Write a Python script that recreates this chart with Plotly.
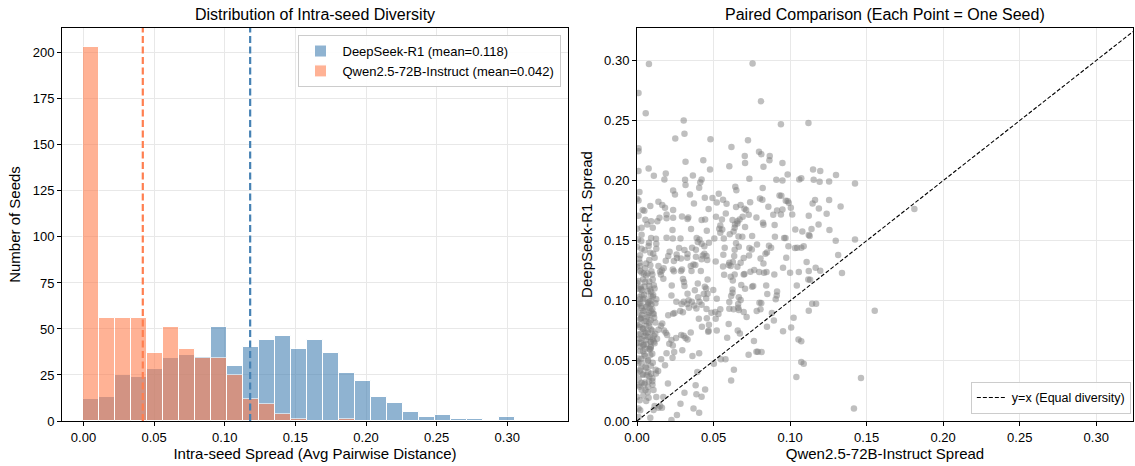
import plotly.graph_objects as go

# ---------------- data ----------------
bin_width = 0.01132
deepseek_counts = [12, 13, 25, 24, 28, 34, 36, 35, 51, 30, 40, 44, 46, 39, 44, 37, 26, 22, 13, 10, 5, 2, 3, 1, 1, 0, 2]
qwen_counts = [203, 56, 56, 56, 37, 51, 39, 34, 34, 25, 12, 9, 4, 1, 0, 0, 1, 0, 0, 0, 0, 0, 0, 0, 0, 0, 0]
deepseek_mean = 0.118
qwen_mean = 0.042
hist_ticks = [0.0, 0.05, 0.10, 0.15, 0.20, 0.25, 0.30]
count_ticks = [0, 25, 50, 75, 100, 125, 150, 175, 200]
x_limit = 0.324
y_limit = 0.327

# (Qwen spread, DeepSeek spread) per seed
seed_pairs = [
    (0.0078, 0.297), (0.0755, 0.2975), (0.001, 0.273), (0.0057, 0.256), (0.081, 0.266), (0.0305, 0.250),
    (0.094, 0.247), (0.112, 0.248), (0.031, 0.239), (0.025, 0.235), (0.048, 0.2345), (0.0725, 0.2335),
    (0.0617, 0.228), (0.001, 0.227), (0.001, 0.2245), (0.0797, 0.224), (0.0704, 0.2205), (0.0867, 0.2205),
    (0.0812, 0.222), (0.0865, 0.217), (0.0433, 0.217), (0.0317, 0.2157), (0.0706, 0.2146), (0.095, 0.2146),
    (0.0076, 0.210), (0.0477, 0.2093), (0.115, 0.2093), (0.0603, 0.212), (0.0826, 0.2115), (0.1197, 0.208),
    (0.001, 0.208), (0.0188, 0.206), (0.011, 0.204), (0.0365, 0.2043), (0.0984, 0.2052), (0.130, 0.2046),
    (0.0314, 0.2007), (0.0422, 0.201), (0.0734, 0.2015), (0.091, 0.2007), (0.095, 0.2002), (0.106, 0.201),
    (0.1073, 0.202), (0.1154, 0.2007), (0.1193, 0.199), (0.1255, 0.1993), (0.1424, 0.1977), (0.0179, 0.201),
    (0.0413, 0.1985), (0.0317, 0.1963), (0.0642, 0.195), (0.0406, 0.194), (0.0821, 0.1938), (0.0236, 0.1918),
    (0.0649, 0.192), (0.0016, 0.1905), (0.0248, 0.1885), (0.0346, 0.1885), (0.0534, 0.189), (0.0931, 0.1877),
    (0.0943, 0.1874), (0.0443, 0.1857), (0.0493, 0.1855), (0.0803, 0.1852), (0.0819, 0.184), (0.0562, 0.184),
    (0.001, 0.1835), (0.0984, 0.183), (0.0972, 0.1833), (0.1163, 0.1838), (0.1255, 0.1838), (0.014, 0.1824),
    (0.0372, 0.181), (0.0521, 0.1819), (0.0739, 0.1821), (0.0991, 0.1816), (0.1147, 0.181), (0.0165, 0.1797),
    (0.0087, 0.1788), (0.0183, 0.1774), (0.0585, 0.1808), (0.0647, 0.178), (0.0677, 0.1797), (0.0702, 0.1766),
    (0.0858, 0.1783), (0.1005, 0.1774), (0.133, 0.1785), (0.1812, 0.1763), (0.0037, 0.1755), (0.0048, 0.175),
    (0.0236, 0.1755), (0.0468, 0.1763), (0.0713, 0.1755), (0.0915, 0.1752), (0.095, 0.176), (0.1188, 0.1769),
    (0.001, 0.1708), (0.0193, 0.1719), (0.058, 0.1727), (0.073, 0.1716), (0.0147, 0.1691), (0.0193, 0.1688),
    (0.0236, 0.1691), (0.0294, 0.1702), (0.0335, 0.1694), (0.0516, 0.1699), (0.069, 0.1699), (0.078, 0.1694),
    (0.089, 0.1716), (0.094, 0.1719), (0.1014, 0.1719), (0.1122, 0.1708), (0.1239, 0.1724), (0.033, 0.168),
    (0.0055, 0.1675), (0.0092, 0.1663), (0.0133, 0.1663), (0.0422, 0.1672), (0.0445, 0.1677), (0.0555, 0.1677),
    (0.0624, 0.1672), (0.0656, 0.1663), (0.067, 0.1677), (0.0823, 0.165), (0.1186, 0.1636), (0.0826, 0.1633),
    (0.0899, 0.163), (0.064, 0.1636), (0.0656, 0.1644), (0.0544, 0.1627), (0.0067, 0.1636), (0.003, 0.1608),
    (0.0103, 0.1608), (0.0537, 0.160), (0.0557, 0.1594), (0.0638, 0.1608), (0.0706, 0.1614), (0.1034, 0.1594),
    (0.114, 0.1597), (0.1257, 0.1589), (0.108, 0.1577), (0.0232, 0.1589), (0.0353, 0.1597), (0.0456, 0.1583),
    (0.0631, 0.1577), (0.0544, 0.1566), (0.0606, 0.1553), (0.1122, 0.1547), (0.1128, 0.1539), (0.0752, 0.1539),
    (0.0688, 0.1533), (0.0663, 0.1536), (0.0901, 0.1533), (0.0961, 0.1522), (0.097, 0.1522), (0.0193, 0.1525),
    (0.0092, 0.1522), (0.0124, 0.1517), (0.0234, 0.1519), (0.0284, 0.1519), (0.039, 0.1522), (0.0408, 0.1511),
    (0.0505, 0.1519), (0.0567, 0.1519), (0.1424, 0.1511), (0.1298, 0.150), (0.0007, 0.1511), (0.0028, 0.1497),
    (0.0078, 0.1483), (0.0126, 0.1475), (0.0397, 0.1489), (0.0422, 0.1475), (0.047, 0.1483), (0.0647, 0.1478),
    (0.0784, 0.1469), (0.0862, 0.1458), (0.0076, 0.1456), (0.044, 0.1453), (0.0665, 0.145), (0.0876, 0.1442),
    (0.0989, 0.1453), (0.1032, 0.1439), (0.1046, 0.1442), (0.1073, 0.1442), (0.1089, 0.1453), (0.003, 0.1433),
    (0.0126, 0.1433), (0.0275, 0.1439), (0.036, 0.1442), (0.0573, 0.1442), (0.0734, 0.1439), (0.031, 0.1422),
    (0.0385, 0.1425), (0.0638, 0.1425), (0.075, 0.1428), (0.0087, 0.140), (0.0106, 0.1392), (0.0213, 0.1408),
    (0.0849, 0.1403), (0.044, 0.1392), (0.0259, 0.1386), (0.033, 0.1389), (0.0429, 0.1378), (0.0732, 0.1378),
    (0.1314, 0.1381), (0.0204, 0.1372), (0.0385, 0.1367), (0.0454, 0.1372), (0.0564, 0.1383), (0.0635, 0.1372),
    (0.0839, 0.1392), (0.0014, 0.135), (0.0018, 0.1317), (0.0115, 0.1358), (0.0261, 0.1356), (0.0287, 0.1353),
    (0.0328, 0.1358), (0.0422, 0.1345), (0.0459, 0.1339), (0.0697, 0.1356), (0.0807, 0.1353), (0.0975, 0.1358),
    (0.0188, 0.1334), (0.0241, 0.1331), (0.0514, 0.1328), (0.0626, 0.1322), (0.0603, 0.1317), (0.0677, 0.1317),
    (0.1108, 0.1322), (0.0369, 0.1303), (0.0826, 0.1311), (0.0599, 0.1297), (0.002, 0.1289), (0.0087, 0.1295),
    (0.014, 0.1289), (0.0351, 0.1289), (0.0381, 0.1297), (0.0656, 0.1284), (0.0562, 0.1286), (0.0612, 0.1289),
    (0.0954, 0.1275), (0.0174, 0.127), (0.1167, 0.1275), (0.0053, 0.127), (0.0234, 0.1261), (0.0294, 0.1261),
    (0.0163, 0.1253), (0.0151, 0.1242), (0.0241, 0.1245), (0.0287, 0.1248), (0.0356, 0.1248), (0.0417, 0.1248),
    (0.0741, 0.1242), (0.003, 0.1236), (0.0094, 0.1245), (0.0766, 0.1256), (0.0798, 0.1239), (0.083, 0.1234),
    (0.0846, 0.1239), (0.1057, 0.1239), (0.1122, 0.1248), (0.1197, 0.125), (0.1339, 0.1231), (0.0702, 0.1223),
    (0.0638, 0.122), (0.100, 0.1234), (0.0897, 0.122), (0.0044, 0.1228), (0.0069, 0.1228), (0.0156, 0.122),
    (0.0569, 0.1217), (0.0612, 0.120), (0.0697, 0.122), (0.0172, 0.1184), (0.0103, 0.1178), (0.030, 0.1181),
    (0.0461, 0.1178), (0.0626, 0.117), (0.1119, 0.1178), (0.1131, 0.1175), (0.001, 0.1164), (0.0053, 0.1156),
    (0.0307, 0.1156), (0.0397, 0.1145), (0.008, 0.1123), (0.0227, 0.1128), (0.031, 0.1123), (0.0443, 0.1117),
    (0.0681, 0.1131), (0.0759, 0.1123), (0.0023, 0.1117), (0.0025, 0.1101), (0.0752, 0.1117), (0.0844, 0.1128),
    (0.1044, 0.1128), (0.0115, 0.1103), (0.0452, 0.1103), (0.0624, 0.1095), (0.0706, 0.1101), (0.0032, 0.1087),
    (0.0087, 0.1095), (0.0498, 0.109), (0.0378, 0.1087), (0.0092, 0.1076), (0.0915, 0.1078), (0.0624, 0.1067),
    (0.0046, 0.1051), (0.0106, 0.1048), (0.0225, 0.1045), (0.033, 0.1059), (0.0436, 0.1056), (0.0461, 0.1059),
    (0.0851, 0.1056), (0.0615, 0.104), (0.0016, 0.1031), (0.0103, 0.1034), (0.0399, 0.1029), (0.0665, 0.1029),
    (0.0913, 0.1045), (0.0126, 0.1012), (0.0018, 0.1012), (0.0337, 0.1004), (0.0452, 0.102), (0.0521, 0.1017),
    (0.0677, 0.1006), (0.0906, 0.1012), (0.0087, 0.0998), (0.0073, 0.0984), (0.0257, 0.0993), (0.0305, 0.0993),
    (0.0358, 0.0993), (0.0408, 0.0993), (0.0603, 0.099), (0.080, 0.0984), (0.0812, 0.0981), (0.1144, 0.0976),
    (0.117, 0.0976), (0.001, 0.0976), (0.003, 0.0956), (0.0094, 0.097), (0.0291, 0.0973), (0.0328, 0.0973),
    (0.0374, 0.0962), (0.0422, 0.0968), (0.0661, 0.0973), (0.0661, 0.0943), (0.0339, 0.0943), (0.0083, 0.0943),
    (0.0388, 0.0937), (0.0603, 0.0934), (0.0631, 0.0929), (0.0665, 0.0923), (0.0697, 0.0907), (0.0782, 0.0915),
    (0.0807, 0.0929), (0.1122, 0.0918), (0.1553, 0.0918), (0.0041, 0.0915), (0.0092, 0.0915), (0.0282, 0.0915),
    (0.030, 0.0904), (0.0454, 0.0932), (0.0544, 0.0929), (0.0511, 0.0907), (0.0103, 0.0895), (0.0236, 0.0893),
    (0.0245, 0.0898), (0.0486, 0.0901), (0.0881, 0.0898), (0.0032, 0.0882), (0.0204, 0.0879), (0.0532, 0.089),
    (0.0716, 0.0865), (0.1023, 0.0859), (0.0069, 0.0865), (0.0112, 0.0859), (0.0404, 0.0851), (0.0456, 0.0854),
    (0.0514, 0.0851), (0.0894, 0.0837), (0.0025, 0.0851), (0.005, 0.0832), (0.008, 0.0818), (0.0165, 0.0812),
    (0.0156, 0.0793), (0.006, 0.079), (0.047, 0.0801), (0.0599, 0.0807), (0.0018, 0.0782), (0.0424, 0.0785),
    (0.0849, 0.0785), (0.0037, 0.0768), (0.0092, 0.0762), (0.014, 0.076), (0.0658, 0.0754), (0.1007, 0.0779),
    (0.0177, 0.0754), (0.0468, 0.0751), (0.0521, 0.0754), (0.0071, 0.074), (0.0188, 0.0735), (0.0954, 0.0746),
    (0.0465, 0.0743), (0.0025, 0.0726), (0.0119, 0.0726), (0.0351, 0.0737), (0.0672, 0.0729), (0.0048, 0.0707),
    (0.0197, 0.0715), (0.0289, 0.0715), (0.0305, 0.071), (0.0087, 0.0699), (0.0589, 0.0693), (0.0016, 0.0685),
    (0.0131, 0.0685), (0.0255, 0.069), (0.0317, 0.069), (0.0103, 0.0679), (0.1055, 0.0679), (0.0057, 0.0674),
    (0.0225, 0.0674), (0.033, 0.0679), (0.0764, 0.0665), (0.009, 0.066), (0.1073, 0.0663), (0.0023, 0.0652),
    (0.0115, 0.0646), (0.0211, 0.0643), (0.0044, 0.0632), (0.009, 0.0618), (0.0234, 0.0629), (0.0053, 0.0602),
    (0.0085, 0.0596), (0.0296, 0.0588), (0.0018, 0.0582), (0.0243, 0.0574), (0.078, 0.0577), (0.0789, 0.0577),
    (0.0814, 0.0574), (0.0406, 0.0563), (0.0048, 0.0554), (0.0087, 0.0549), (0.0193, 0.0563), (0.0362, 0.0541),
    (0.0729, 0.0552), (0.0232, 0.0527), (0.0028, 0.0518), (0.0158, 0.0513), (0.0548, 0.0513), (0.0578, 0.0513),
    (0.0073, 0.0505), (0.0009, 0.0485), (0.0103, 0.0485), (0.1073, 0.0491), (0.1089, 0.0477), (0.0502, 0.0477),
    (0.0183, 0.0463), (0.0055, 0.0452), (0.0023, 0.0435), (0.0122, 0.0427), (0.0633, 0.0427), (0.0138, 0.0416),
    (0.0073, 0.0408), (0.0394, 0.0408), (0.0092, 0.0394), (0.0124, 0.0396), (0.0037, 0.0385), (0.0064, 0.038),
    (0.1463, 0.0358), (0.1041, 0.0366), (0.0101, 0.0355), (0.0011, 0.0347), (0.0615, 0.0338), (0.0078, 0.033),
    (0.003, 0.0319), (0.0048, 0.0305), (0.0202, 0.0313), (0.0101, 0.0302), (0.0073, 0.0283), (0.0016, 0.0286),
    (0.0383, 0.0297), (0.0445, 0.0263), (0.0108, 0.0258), (0.0055, 0.0258), (0.0388, 0.0222), (0.031, 0.0236),
    (0.0422, 0.0202), (0.0041, 0.0213), (0.0076, 0.0194), (0.0126, 0.020), (0.0172, 0.020), (0.0018, 0.0172),
    (0.006, 0.0166), (0.0284, 0.0144), (0.0151, 0.0125), (0.0115, 0.0125), (0.014, 0.0111), (0.0163, 0.0111),
    (0.0369, 0.0103), (0.1417, 0.0105), (0.0021, 0.0089), (0.0108, 0.0092), (0.0406, 0.0069), (0.0261, 0.005),
    (0.0087, 0.0028), (0.0225, 0.0008), (0.001, 0.0103), (0.001, 0.0033),
    (0.002, 0.125), (0.004, 0.118), (0.006, 0.121), (0.008, 0.116), (0.010, 0.122), (0.001, 0.110),
    (0.003, 0.105), (0.005, 0.112), (0.007, 0.108), (0.009, 0.104), (0.011, 0.113), (0.002, 0.098),
    (0.004, 0.101), (0.006, 0.095), (0.008, 0.099), (0.010, 0.093), (0.001, 0.090), (0.003, 0.086),
    (0.005, 0.092), (0.007, 0.088), (0.009, 0.084), (0.011, 0.089), (0.002, 0.080), (0.004, 0.077),
    (0.006, 0.083), (0.008, 0.079), (0.010, 0.075), (0.001, 0.072), (0.003, 0.068), (0.005, 0.074),
    (0.007, 0.070), (0.009, 0.066), (0.011, 0.071), (0.002, 0.062), (0.004, 0.058), (0.006, 0.064),
    (0.008, 0.060), (0.010, 0.056), (0.001, 0.052), (0.003, 0.048), (0.005, 0.054), (0.007, 0.050),
    (0.009, 0.046), (0.002, 0.042), (0.004, 0.039), (0.006, 0.044), (0.008, 0.037), (0.010, 0.033),
    (0.001, 0.030), (0.003, 0.026), (0.005, 0.032), (0.007, 0.024), (0.002, 0.138), (0.005, 0.142),
    (0.008, 0.134), (0.003, 0.155), (0.006, 0.131), (0.000, 0.115), (0.000, 0.095), (0.000, 0.080),
    (0.000, 0.065), (0.000, 0.050), (0.000, 0.040), (0.000, 0.128), (0.000, 0.145), (0.000, 0.020),
    (0.000, 0.160), (0.000, 0.185), (0.004, 0.063), (0.006, 0.073), (0.002, 0.085), (0.008, 0.090),
    (0.003, 0.094), (0.007, 0.097), (0.005, 0.102), (0.009, 0.061), (0.011, 0.066), (0.012, 0.082),
    (0.012, 0.098),
]

qwen_spread = [p[0] for p in seed_pairs]
deepseek_spread = [p[1] for p in seed_pairs]

# ---------------- figure ----------------
W, H = 1135, 466
ML, MR, MT, MB = 62, 2, 28, 45
PW = W - ML - MR
FONT = "Liberation Sans, Arial, Helvetica, sans-serif"

def dom_x(a, b):
    return [(a - ML) / PW, (b - ML) / PW]

left_dom = dom_x(62, 568)
right_dom = dom_x(637, 1133)

bin_centers = [i * bin_width + bin_width / 2 for i in range(len(deepseek_counts))]

fig = go.Figure()

fig.add_trace(go.Bar(
    x=bin_centers, y=deepseek_counts, width=bin_width,
    marker=dict(color="steelblue", line=dict(color="white", width=1)),
    opacity=0.6, name=f"DeepSeek-R1 (mean={deepseek_mean:.3f})",
    xaxis="x", yaxis="y", legend="legend",
))
fig.add_trace(go.Bar(
    x=bin_centers, y=qwen_counts, width=bin_width,
    marker=dict(color="coral", line=dict(color="white", width=1)),
    opacity=0.6, name=f"Qwen2.5-72B-Instruct (mean={qwen_mean:.3f})",
    xaxis="x", yaxis="y", legend="legend",
))

# mean lines
for m, c in [(deepseek_mean, "steelblue"), (qwen_mean, "coral")]:
    fig.add_shape(type="line", xref="x", yref="y domain", x0=m, x1=m, y0=0, y1=1,
                  line=dict(color=c, width=2.2, dash="7px,3.5px"), layer="above")

# scatter
fig.add_trace(go.Scatter(
    x=qwen_spread, y=deepseek_spread, mode="markers",
    marker=dict(size=6.5, color="gray", opacity=0.5, line=dict(width=0)),
    showlegend=False, xaxis="x2", yaxis="y2", hoverinfo="skip",
))
fig.add_trace(go.Scatter(
    x=[0, y_limit], y=[0, y_limit], mode="lines",
    line=dict(color="black", width=1.1, dash="4px,2px"),
    name="y=x (Equal diversity)", xaxis="x2", yaxis="y2", legend="legend2",
))

axis_common = dict(
    showgrid=True, gridcolor="#e8e8e8", gridwidth=1,
    showline=True, linecolor="black", linewidth=1, mirror=True,
    ticks="outside", ticklen=4, tickcolor="black", tickwidth=1,
    zeroline=False, automargin=False,
    tickfont=dict(size=13, color="black", family=FONT),
    title_font=dict(size=15, color="black", family=FONT),
)

fig.update_layout(
    width=W, height=H,
    margin=dict(l=ML, r=MR, t=MT, b=MB, autoexpand=False),
    paper_bgcolor="white", plot_bgcolor="white",
    barmode="overlay", bargap=0,
    font=dict(family=FONT, color="black"),
    xaxis=dict(domain=left_dom, anchor="y", range=[-0.0152, 0.343],
               tickvals=hist_ticks, tickformat=".2f",
               title=dict(text="Intra-seed Spread (Avg Pairwise Distance)", standoff=3), **axis_common),
    yaxis=dict(domain=[0, 1], anchor="x", range=[0, 213.5],
               tickvals=count_ticks,
               title=dict(text="Number of Seeds", standoff=8), **axis_common),
    xaxis2=dict(domain=right_dom, anchor="y2", range=[0, x_limit],
                tickvals=hist_ticks, tickformat=".2f",
                title=dict(text="Qwen2.5-72B-Instruct Spread", standoff=3), **axis_common),
    yaxis2=dict(domain=[0, 1], anchor="x2", range=[0, y_limit],
                tickvals=hist_ticks, tickformat=".2f",
                title=dict(text="DeepSeek-R1 Spread", standoff=7), **axis_common),
    legend=dict(x=left_dom[1] - 0.007, xanchor="right", y=0.982, yanchor="top",
                bgcolor="rgba(255,255,255,0.9)", bordercolor="#cccccc", borderwidth=1,
                font=dict(size=13, family=FONT), tracegroupgap=0, itemwidth=34),
    legend2=dict(x=right_dom[1] - 0.002, xanchor="right", y=0.018, yanchor="bottom",
                 bgcolor="rgba(255,255,255,0.9)", bordercolor="#cccccc", borderwidth=1,
                 font=dict(size=12.5, family=FONT), itemwidth=30),
    annotations=[
        dict(text="Distribution of Intra-seed Diversity", x=(left_dom[0] + left_dom[1]) / 2,
             y=1.0, xref="paper", yref="paper", xanchor="center", yanchor="bottom", yshift=3,
             showarrow=False, font=dict(size=16, family=FONT, color="black")),
        dict(text="Paired Comparison (Each Point = One Seed)", x=(right_dom[0] + right_dom[1]) / 2,
             y=1.0, xref="paper", yref="paper", xanchor="center", yanchor="bottom", yshift=3,
             showarrow=False, font=dict(size=16, family=FONT, color="black")),
    ],
)

fig.write_html(
    "out.html",
    config={"displayModeBar": False},
    post_script="document.body.style.margin='0';document.body.style.overflow='hidden';",
)
